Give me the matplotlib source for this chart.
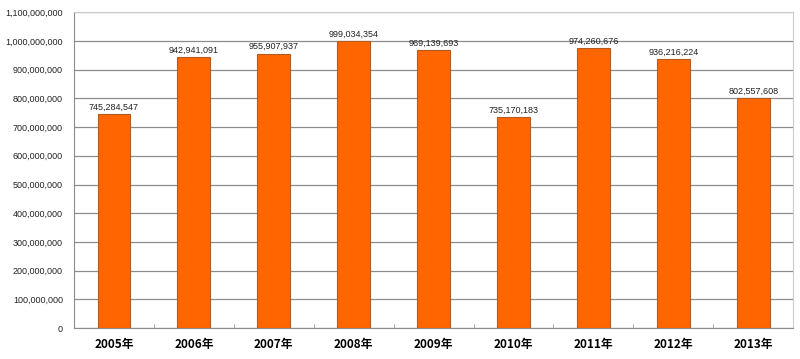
import matplotlib.pyplot as plt
import matplotlib.ticker as mticker
import numpy as np

plt.rcParams['font.family'] = ['Liberation Sans', 'DejaVu Sans']

years = ['2005年', '2006年', '2007年', '2008年', '2009年',
         '2010年', '2011年', '2012年', '2013年']
values = [745284547, 942941091, 955907937, 999034354, 969139693,
          735170183, 974260676, 936216224, 802557608]

fig = plt.figure(figsize=(8, 3.59), dpi=100)
ax = fig.add_axes([0.0925, 0.086, 0.899, 0.88])

x = np.arange(len(years))
ax.bar(x, values, width=0.41, color='#ff6600', edgecolor='#b85a1e', linewidth=0.8, zorder=3)

for xi, v in zip(x, values):
    ax.text(xi, v + 8e6, f'{v:,}', ha='center', va='bottom', fontsize=6.5, color='#222222')

ax.set_xlim(-0.5, len(years) - 0.5)
ax.set_ylim(0, 1.1e9)
ax.yaxis.set_major_locator(mticker.MultipleLocator(1e8))
ax.yaxis.set_major_formatter(mticker.FuncFormatter(lambda v, p: f'{int(v):,}'))
ax.grid(axis='y', color='#8c8c8c', linewidth=0.9, zorder=0)

ax.set_xticks(x)
ax.set_xticklabels(years, fontsize=8.5, fontweight='bold',
                   family=['Noto Sans CJK JP', 'DejaVu Sans'])
ax.tick_params(axis='x', length=0, pad=7)
ax.set_xticks(np.arange(0.5, len(years) - 1, 1), minor=True)
ax.tick_params(axis='x', which='minor', direction='in', length=3, color='#999999')
ax.tick_params(axis='y', length=0, labelsize=6.5, pad=8, labelcolor='#222222')

for s in ['top', 'right']:
    ax.spines[s].set_color('#cccccc')
ax.spines['left'].set_color('#8c8c8c')
ax.spines['bottom'].set_color('#8c8c8c')

fig.savefig('out.png', dpi=100)
